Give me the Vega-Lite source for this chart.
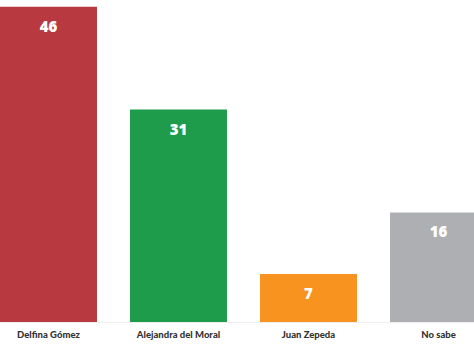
{
  "$schema": "https://vega.github.io/schema/vega-lite/v6.json",
  "autosize": "none",
  "padding": {"top": 0, "left": 0, "right": 0, "bottom": 22},
  "width": 487,
  "height": 322,
  "background": "white",
  "data": {
    "values": [
      {"candidato": "Delfina Gómez", "pct": 46},
      {"candidato": "Alejandra del Moral", "pct": 31},
      {"candidato": "Juan Zepeda", "pct": 7},
      {"candidato": "No sabe", "pct": 16}
    ]
  },
  "encoding": {
    "x": {
      "field": "candidato",
      "type": "nominal",
      "sort": null,
      "scale": {"paddingInner": 0.254, "paddingOuter": 0},
      "axis": {
        "title": null,
        "labelAngle": 0,
        "ticks": false,
        "domain": true,
        "domainColor": "#eeeeee",
        "labelPadding": 7,
        "labelFont": "Lato",
        "labelFontWeight": 900,
        "labelFontSize": 9.5,
        "labelColor": "#333333"
      }
    },
    "y": {
      "field": "pct",
      "type": "quantitative",
      "scale": {"domain": [0, 47], "nice": false},
      "axis": null
    }
  },
  "layer": [
    {
      "mark": {"type": "bar"},
      "encoding": {
        "color": {
          "field": "candidato",
          "type": "nominal",
          "sort": null,
          "scale": {
            "domain": ["Delfina Gómez", "Alejandra del Moral", "Juan Zepeda", "No sabe"],
            "range": ["#b8393f", "#1f9c4b", "#f7931e", "#aeafb3"]
          },
          "legend": null
        }
      }
    },
    {
      "mark": {
        "type": "text",
        "baseline": "middle",
        "dy": 20,
        "font": "Open Sans",
        "fontWeight": 800,
        "fontSize": 15,
        "color": "white"
      },
      "encoding": {"text": {"field": "pct", "type": "quantitative"}}
    }
  ],
  "config": {"view": {"stroke": null}}
}
